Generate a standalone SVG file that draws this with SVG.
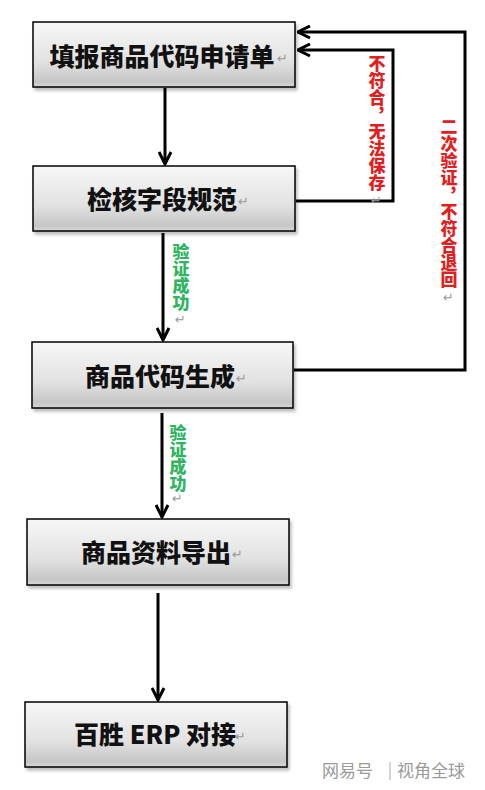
<svg xmlns="http://www.w3.org/2000/svg" width="485" height="790" viewBox="0 0 485 790">
<style>
.box{stroke:#000;stroke-width:1.5;fill:url(#g)}
.lbl{font-family:"Noto Sans CJK SC","Noto Sans",sans-serif;font-weight:900;font-size:25px;fill:#111;text-anchor:middle}
.ret{font-family:"DejaVu Sans",sans-serif;font-size:13px;fill:#999}
.conn{stroke:#000;stroke-width:3;fill:none}
.vt{font-family:"Noto Sans CJK SC",sans-serif;font-weight:900;font-size:17px;writing-mode:vertical-rl;text-orientation:upright}
.red{fill:#e0201e}
.green{fill:#2fb45f}
.wm{font-family:"Noto Sans CJK SC",sans-serif;font-size:17px;fill:#9a9a9a}
</style>
<defs>
<linearGradient id="g" x1="0" y1="0" x2="0" y2="1">
<stop offset="0" stop-color="#f7f7f7"/>
<stop offset="0.6" stop-color="#e2e2e2"/>
<stop offset="0.92" stop-color="#c6c6c6"/>
<stop offset="1" stop-color="#d8d8d8"/>
</linearGradient>
<filter id="sh" x="-5%" y="-10%" width="115%" height="130%">
<feDropShadow dx="2" dy="3" stdDeviation="1.5" flood-color="#000" flood-opacity="0.25"/>
</filter>
<marker id="ah" viewBox="0 0 10 10" refX="9" refY="5" markerWidth="15" markerHeight="15" markerUnits="userSpaceOnUse" orient="auto">
<path d="M1,1 L9,5 L1,9" fill="none" stroke="#000" stroke-width="2"/>
</marker>
</defs>

<g id="connectors">
<line class="conn" x1="165" y1="88" x2="165" y2="164" marker-end="url(#ah)"/>
<line class="conn" x1="163" y1="233" x2="163" y2="340" marker-end="url(#ah)"/>
<line class="conn" x1="162" y1="413" x2="162" y2="517" marker-end="url(#ah)"/>
<line class="conn" x1="158" y1="593" x2="158" y2="700" marker-end="url(#ah)"/>
<polyline class="conn" points="296,201 393,201 393,50 298,50" marker-end="url(#ah)"/>
<polyline class="conn" points="294,370 465,370 465,32 298,32" marker-end="url(#ah)"/>
<text class="vt red" x="377" y="55">不符合，无法保存</text>
<text class="ret" x="371" y="205">↵</text>
<text class="vt red" x="449" y="118">二次验证，不符合退回</text>
<text class="ret" x="443" y="302">↵</text>
<text class="vt green" x="181" y="243">验证成功</text>
<text class="ret" x="175" y="324">↵</text>
<text class="vt green" x="178" y="424">验证成功</text>
<text class="ret" x="172" y="503">↵</text>
</g>

<g id="n1">
<rect class="box" x="33" y="22" width="262" height="65" filter="url(#sh)"/>
<text class="lbl" x="162" y="66">填报商品代码申请单</text>
<text class="ret" x="277" y="63">↵</text>
</g>
<g id="n2">
<rect class="box" x="33" y="166" width="262" height="65" filter="url(#sh)"/>
<text class="lbl" x="162" y="209">检核字段规范</text>
<text class="ret" x="238" y="206">↵</text>
</g>
<g id="n3">
<rect class="box" x="32" y="342" width="261" height="66" filter="url(#sh)"/>
<text class="lbl" x="160" y="386">商品代码生成</text>
<text class="ret" x="236" y="383">↵</text>
</g>
<g id="n4">
<rect class="box" x="27" y="519" width="262" height="66" filter="url(#sh)"/>
<text class="lbl" x="156" y="562">商品资料导出</text>
<text class="ret" x="232" y="559">↵</text>
</g>
<g id="n5">
<rect class="box" x="25" y="702" width="262" height="65" filter="url(#sh)"/>
<text class="lbl" x="155" y="744">百胜 ERP 对接</text>
<text class="ret" x="235" y="741">↵</text>
</g>

<g id="watermark">
<text class="wm" x="322" y="777">网易号</text>
<line x1="390" y1="762" x2="390" y2="780" stroke="#aaa" stroke-width="1"/>
<text class="wm" x="397" y="777">视角全球</text>
</g>
</svg>
